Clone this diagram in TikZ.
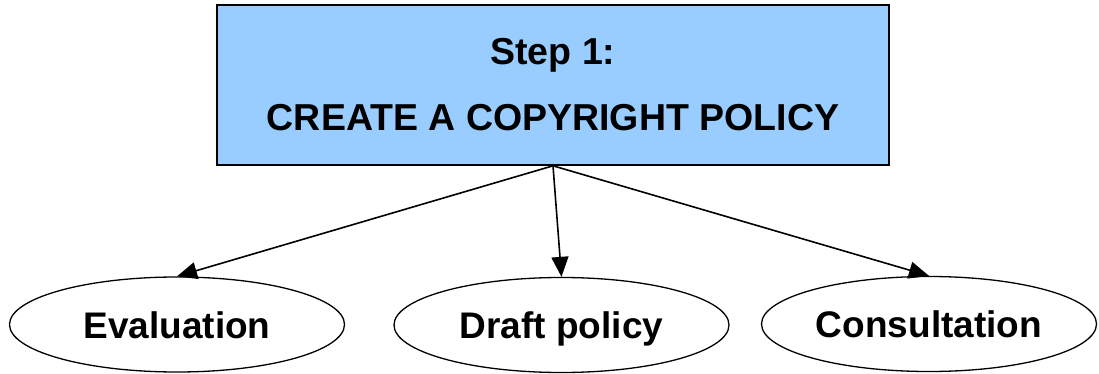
\documentclass[tikz,border=0pt]{standalone}
\usepackage{fontspec}
\setmainfont{Liberation Sans}
\usetikzlibrary{arrows.meta, shapes.geometric}
\definecolor{StepBlue}{HTML}{99CCFF}
\tikzset{
  stepbox/.style={draw=black, line width=1.6pt, fill=StepBlue, align=center, minimum width=672pt, minimum height=160pt, inner sep=0pt, font=\fontsize{37.5}{66}\selectfont\bfseries},
  task/.style={draw=black, line width=1.3pt, ellipse, fill=white, minimum width=335pt, minimum height=95pt, inner sep=0pt, text height=27pt, text depth=0pt, font=\fontsize{37}{42}\selectfont\bfseries},
  arrow/.style={-{Triangle[length=20pt, width=17pt]}, line width=1.6pt, draw=black}
}
\begin{document}
\begin{tikzpicture}[x=1pt, y=-1pt]
\useasboundingbox (0,0) rectangle (1099,374);
\node[stepbox] (policy) at (553,85) {Step 1:\\CREATE A COPYRIGHT POLICY};
\node[task] (evaluation) at (177,324.5) {Evaluation};
\node[task] (draft) at (561.5,325) {Draft policy};
\node[task] (consultation) at (929,324) {Consultation};
\draw[arrow] (policy.south) -- (evaluation.north);
\draw[arrow] (policy.south) -- (draft.north);
\draw[arrow] (policy.south) -- (consultation.north);
\end{tikzpicture}
\end{document}
